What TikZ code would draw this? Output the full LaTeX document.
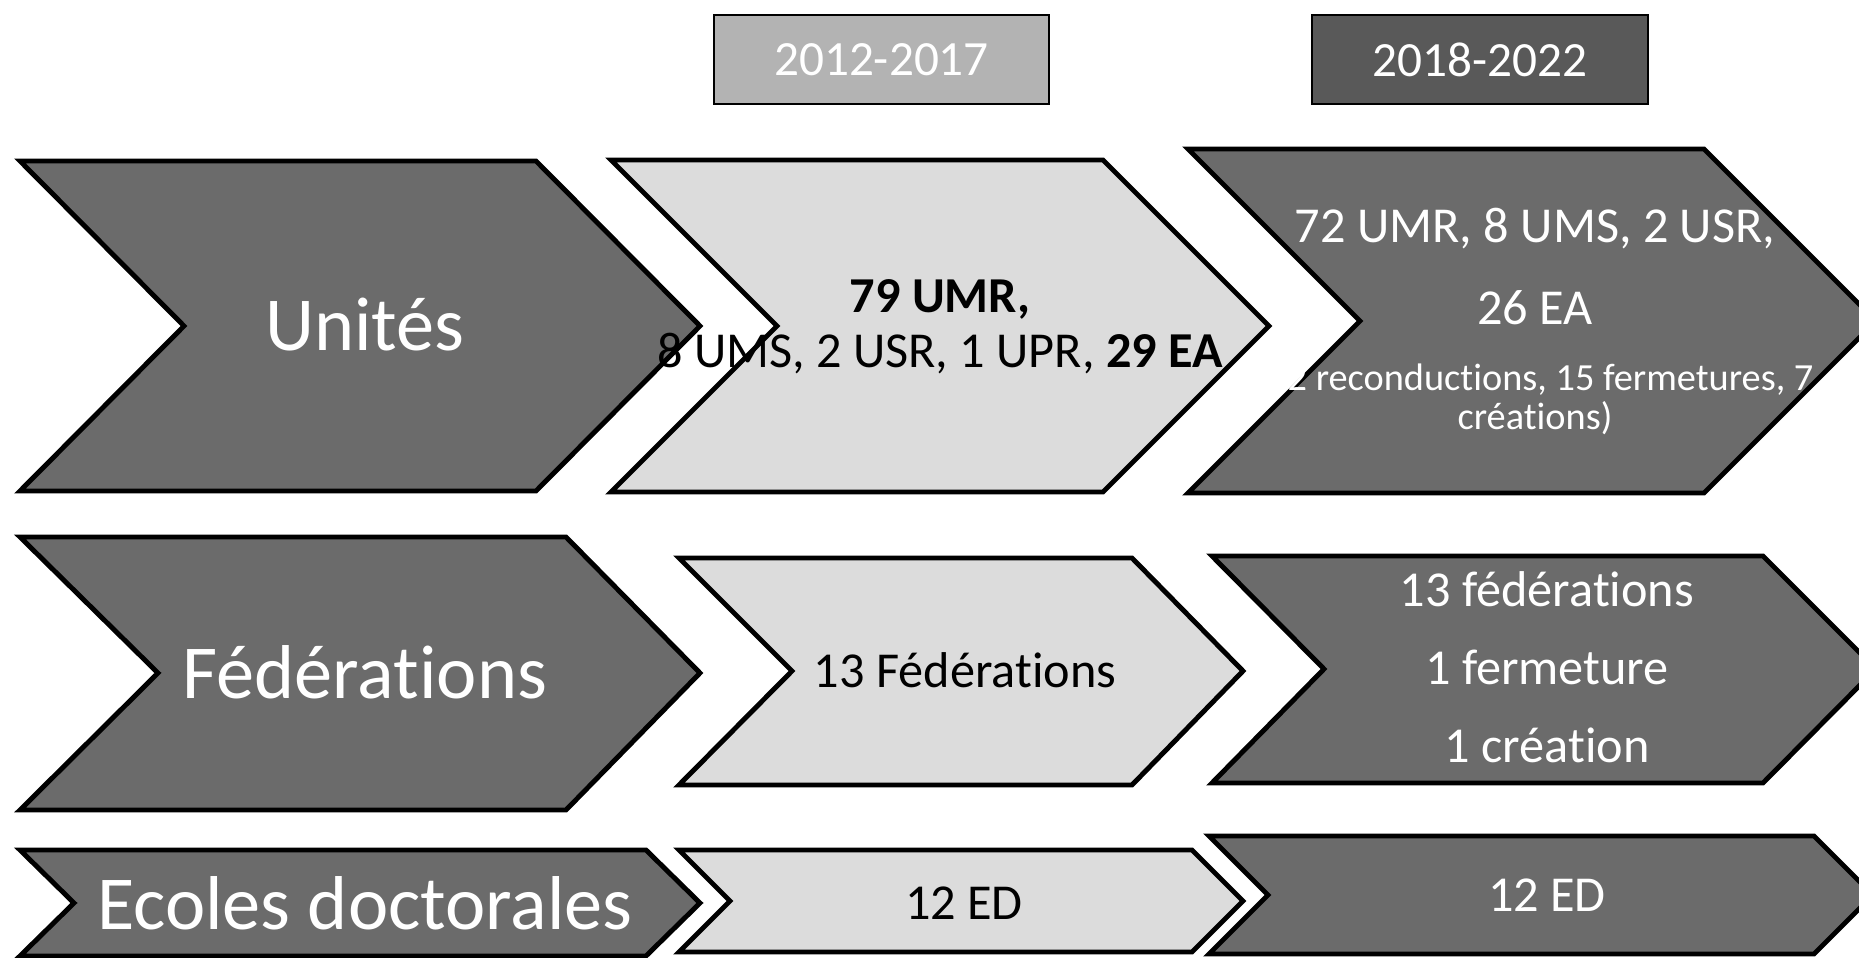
\documentclass[tikz,border=0pt]{standalone}
\usepackage{fontspec}
\setmainfont{Carlito}[Ligatures=NoCommon]
\definecolor{darkfill}{HTML}{6B6B6B}
\definecolor{lightfill}{HTML}{DCDCDC}
\definecolor{hdrlight}{HTML}{B3B3B3}
\definecolor{hdrdark}{HTML}{595959}
\tikzset{
    darkchev/.style={draw=black, line width=1.4pt, fill=darkfill},
    lightchev/.style={draw=black, line width=1.4pt, fill=lightfill},
    yearbox/.style={draw=black, line width=.6pt, text=white, minimum width=3.35cm, minimum height=.89cm, font=\fontsize{14}{16}\selectfont},
    bigtxt/.style={text=white, font=\fontsize{21.7}{25}\selectfont},
    midwhite/.style={text=white, font=\fontsize{14.3}{16}\selectfont},
    midblack/.style={text=black, font=\fontsize{14.3}{16}\selectfont},
    smallwhite/.style={text=white, font=\fontsize{10.9}{12}\selectfont}
}
\begin{document}
\begin{tikzpicture}[x=.01cm, y=-.01cm]
\useasboundingbox (0,0) rectangle (1859,958);
\clip (0,0) rectangle (1859,958);
% periods
\node[yearbox, fill=hdrlight] (p1) at (881.5,59.5) {2012-2017};
\node[yearbox, fill=hdrdark] (p2) at (1480,59.5) {2018-2022};
% row 1
\draw[darkchev] (20,161)--(536,161)--(700,326)--(536,491)--(20,491)--(184,326)--cycle;
\draw[lightchev] (611,160)--(1103,160)--(1269,326)--(1103,492)--(611,492)--(777,326)--cycle;
\draw[darkchev] (1188,149)--(1704,149)--(1876,321)--(1704,493)--(1188,493)--(1360,321)--cycle;
% row 2
\draw[darkchev] (20,537)--(566,537)--(700,673)--(566,810)--(20,810)--(158,673)--cycle;
\draw[lightchev] (679,558)--(1132,558)--(1243,671)--(1132,785)--(679,785)--(792,671)--cycle;
\draw[darkchev] (1212,556)--(1763,556)--(1876,669)--(1763,783)--(1212,783)--(1324,669)--cycle;
% row 3
\draw[darkchev] (20,850)--(646,850)--(700,903)--(646,956)--(20,956)--(74,903)--cycle;
\draw[lightchev] (679,850)--(1192,850)--(1243,901)--(1192,952)--(679,952)--(730,901)--cycle;
\draw[darkchev] (1209,836)--(1814,836)--(1873,895)--(1814,954)--(1209,954)--(1268,895)--cycle;
% labels
\node[bigtxt] (unites) at (365,325) {Unités};
\node[bigtxt] (feds) at (365,672) {Fédérations};
\node[bigtxt] (ecoles) at (365,903) {Ecoles doctorales};
\node[midblack] (u1a) at (940,299) {\textbf{79 UMR,}};
\node[midblack] (u1b) at (940,354) {8 UMS, 2 USR, 1 UPR, \textbf{29 EA}};
\node[midwhite] (u2a) at (1535,229) {72 UMR, 8 UMS, 2 USR,};
\node[midwhite] (u2b) at (1535,308) {26 EA};
\node[smallwhite] (u2c) at (1535,379) {(62 reconductions, 15 fermetures, 7};
\node[smallwhite] (u2d) at (1535,418) {créations)};
\node[midblack] (f1) at (965,670) {13 Fédérations};
\node[midwhite] (f2a) at (1547,589) {13 fédérations};
\node[midwhite] (f2b) at (1547,667) {1 fermeture};
\node[midwhite] (f2c) at (1547,745) {1 création};
\node[midblack] (ed1) at (964,903) {12 ED};
\node[midwhite] (ed2) at (1547,895) {12 ED};
\end{tikzpicture}
\end{document}
